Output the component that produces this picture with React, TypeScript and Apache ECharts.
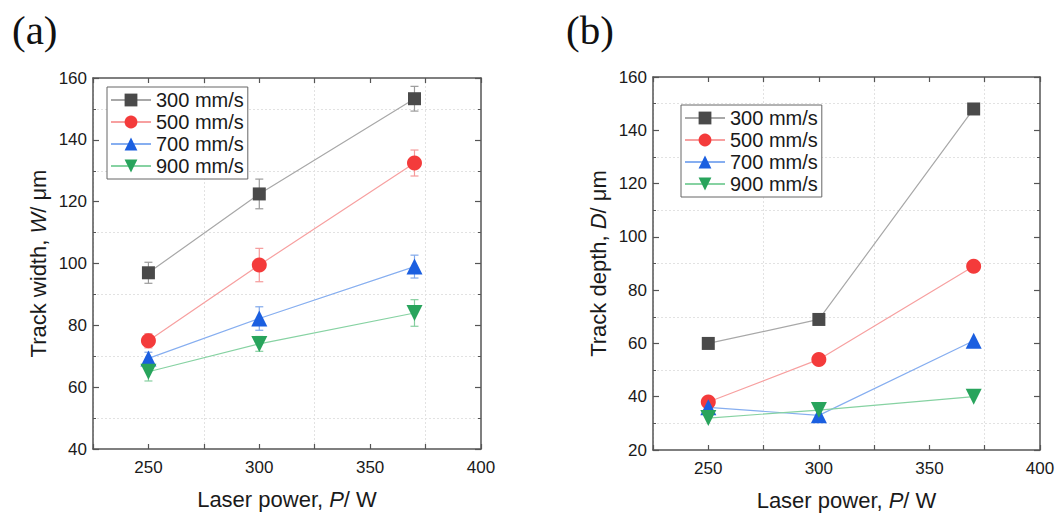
import React, { useEffect, useRef } from "react";
import * as echarts from "echarts";

const laserPower = [250, 300, 370];
const seriesNames = ["300 mm/s", "500 mm/s", "700 mm/s", "900 mm/s"];

const width300 = [97, 122.5, 153.3];
const width500 = [75, 99.5, 132.5];
const width700 = [69.3, 82.2, 99];
const width900 = [65, 74, 84];

const widthErr300 = [3.4, 4.8, 4];
const widthErr500 = [2.3, 5.4, 4.2];
const widthErr700 = [2, 3.8, 3.7];
const widthErr900 = [3, 2.4, 4.3];

const depth300 = [60, 69, 148];
const depth500 = [38, 54, 89];
const depth700 = [36, 33, 61];
const depth900 = [32, 35, 40];

const markerColors = ["#4a4a4a", "#f43b3b", "#1b5fe0", "#28a45c"];
const lineColors = ["#a8a8a8", "#f7a0a0", "#86aef0", "#86d2a2"];
const errColors = ["#9a9a9a", "#f59a9a", "#80a8ea", "#86cf9f"];
const symbols = ["rect", "circle", "triangle", "triangle"];
const symbolRotate = [0, 0, 0, 180];
const symbolSizes = [13, 15, 16, 16];

const FONT = "Liberation Sans, Arial, sans-serif";
const AXIS_COLOR = "#555";
const GRID_COLOR = "#e2e2e2";

function xAxes(gridIndex: number) {
  const common = {
    type: "value",
    gridIndex,
    min: 225,
    max: 400,
    interval: 25,
    axisLine: { show: true, onZero: false, lineStyle: { color: AXIS_COLOR, width: 1.5 } },
    axisTick: { show: true, inside: true, length: 5, lineStyle: { color: AXIS_COLOR, width: 1.2 } },
  };
  return [
    {
      ...common,
      position: "bottom",
      axisLabel: {
        show: true,
        margin: 10,
        fontSize: 17,
        fontFamily: FONT,
        color: "#1a1a1a",
        formatter: (v: number) => (v % 50 === 0 ? String(v) : ""),
      },
      splitLine: {
        show: true,
        lineStyle: { color: [GRID_COLOR, "rgba(0,0,0,0)"], width: 1, type: [2, 2] },
      },
      name: "Laser power, {i|P}/ W",
      nameLocation: "middle",
      nameGap: 39,
      nameTextStyle: {
        fontSize: 22,
        fontFamily: FONT,
        color: "#1a1a1a",
        rich: { i: { fontSize: 22, fontFamily: FONT, fontStyle: "italic", color: "#1a1a1a" } },
      },
    },
    {
      ...common,
      position: "top",
      axisLabel: { show: false },
      splitLine: { show: false },
    },
  ];
}

function yAxes(gridIndex: number, min: number, title: string) {
  const common = {
    type: "value",
    gridIndex,
    min,
    max: 160,
    interval: 20,
    axisLine: { show: true, onZero: false, lineStyle: { color: AXIS_COLOR, width: 1.5 } },
    axisTick: { show: true, inside: true, length: 6, lineStyle: { color: AXIS_COLOR, width: 1.2 } },
    minorTick: { show: true, splitNumber: 2, length: 3, lineStyle: { color: AXIS_COLOR, width: 1 } },
    splitLine: { show: false },
  };
  return [
    {
      ...common,
      position: "left",
      axisLabel: { show: true, margin: 6, fontSize: 17, fontFamily: FONT, color: "#1a1a1a" },
      minorSplitLine: { show: true, lineStyle: { color: GRID_COLOR, width: 1, type: [2, 2] } },
      name: title,
      nameLocation: "middle",
      nameGap: 44,
      nameTextStyle: {
        fontSize: 22,
        fontFamily: FONT,
        color: "#1a1a1a",
        rich: { i: { fontSize: 22, fontFamily: FONT, fontStyle: "italic", color: "#1a1a1a" } },
      },
    },
    {
      ...common,
      position: "right",
      axisLabel: { show: false },
      minorSplitLine: { show: false },
    },
  ];
}

function lineSeries(idx: number, values: number[], axisIdx: number) {
  return {
    type: "line",
    name: seriesNames[idx],
    xAxisIndex: axisIdx,
    yAxisIndex: axisIdx,
    data: laserPower.map((x, i) => [x, values[i]]),
    symbol: symbols[idx],
    symbolRotate: symbolRotate[idx],
    symbolSize: symbolSizes[idx],
    lineStyle: { color: lineColors[idx], width: 1.2 },
    itemStyle: { color: markerColors[idx] },
    z: 3,
  };
}

function errorSeries(idx: number, values: number[], errs: number[]) {
  const color = errColors[idx];
  return {
    type: "custom",
    coordinateSystem: "cartesian2d",
    xAxisIndex: 0,
    yAxisIndex: 0,
    z: 2,
    data: laserPower.map((x, i) => [x, values[i] - errs[i], values[i] + errs[i]]),
    encode: { x: 0, y: [1, 2] },
    renderItem: (_params: any, api: any) => {
      const x = api.value(0);
      const top = api.coord([x, api.value(2)]);
      const bot = api.coord([x, api.value(1)]);
      const hw = 4;
      const style = { stroke: color, lineWidth: 1.2 };
      return {
        type: "group",
        children: [
          { type: "line", shape: { x1: top[0], y1: top[1], x2: bot[0], y2: bot[1] }, style },
          { type: "line", shape: { x1: top[0] - hw, y1: top[1], x2: top[0] + hw, y2: top[1] }, style },
          { type: "line", shape: { x1: bot[0] - hw, y1: bot[1], x2: bot[0] + hw, y2: bot[1] }, style },
        ],
      };
    },
  };
}

function legend(left: number, top: number) {
  return {
    left,
    top,
    orient: "vertical",
    data: seriesNames,
    itemWidth: 40,
    itemHeight: 16,
    itemGap: 2,
    padding: [3, 4, 3, 3],
    borderColor: "#666",
    borderWidth: 1,
    backgroundColor: "#fff",
    textStyle: { fontSize: 20, fontFamily: FONT, color: "#1a1a1a" },
  };
}

export default function App() {
  const ref = useRef<HTMLDivElement>(null);

  useEffect(() => {
    if (!ref.current) return;
    const chart = echarts.init(ref.current, undefined, { renderer: "svg" });
    const widthVals = [width300, width500, width700, width900];
    const widthErrs = [widthErr300, widthErr500, widthErr700, widthErr900];
    const depthVals = [depth300, depth500, depth700, depth900];

    chart.setOption({
      animation: false,
      backgroundColor: "#fff",
      grid: [
        { left: 93, top: 78, width: 388, height: 371 },
        { left: 653, top: 77, width: 387, height: 373 },
      ],
      xAxis: [...xAxes(0), ...xAxes(1)],
      yAxis: [
        ...yAxes(0, 40, "Track width, {i|W}/ μm"),
        ...yAxes(1, 20, "Track depth, {i|D}/ μm"),
      ],
      legend: [legend(107, 87), legend(681, 105)],
      series: [
        ...widthVals.map((v, i) => errorSeries(i, v, widthErrs[i])),
        ...widthVals.map((v, i) => lineSeries(i, v, 0)),
        ...depthVals.map((v, i) => lineSeries(i, v, 2)),
      ],
      graphic: [
        {
          type: "text",
          left: 12,
          top: 9,
          style: { text: "(a)", fontSize: 41, fontFamily: "Liberation Serif, Times New Roman, serif", fill: "#111" },
        },
        {
          type: "text",
          left: 566,
          top: 9,
          style: { text: "(b)", fontSize: 41, fontFamily: "Liberation Serif, Times New Roman, serif", fill: "#111" },
        },
      ],
    });
    return () => chart.dispose();
  }, []);

  return (
    <div
      ref={ref}
      style={{ position: "absolute", left: 0, top: 0, width: 1059, height: 531, background: "#fff" }}
    />
  );
}
